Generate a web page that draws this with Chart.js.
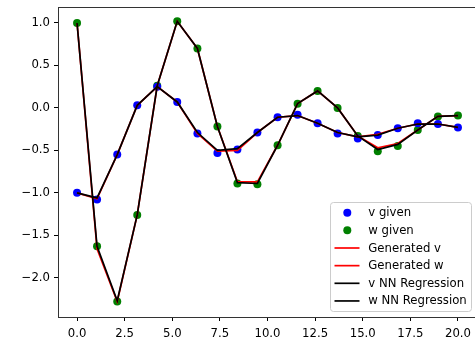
<!DOCTYPE html>
<html>
<head>
<meta charset="utf-8">
<script src="https://cdn.jsdelivr.net/npm/chart.js@4.4.1/dist/chart.umd.min.js"></script>
<style>
body { margin: 0; background: #fff; overflow: hidden; }
#wrap { width: 481px; height: 341px; }
</style>
</head>
<body>
<div id="wrap"><canvas id="chart" width="481" height="341"></canvas></div>
<script>
var xs = [0, 1.05, 2.11, 3.16, 4.21, 5.26, 6.32, 7.37, 8.42, 9.47, 10.53, 11.58, 12.63, 13.68, 14.74, 15.79, 16.84, 17.89, 18.95, 20];
var vGiven = [-1.00, -1.08, -0.55, 0.03, 0.25, 0.07, -0.30, -0.53, -0.49, -0.29, -0.11, -0.08, -0.18, -0.30, -0.36, -0.32, -0.24, -0.18, -0.19, -0.23];
var wGiven = [1.00, -1.63, -2.28, -1.26, 0.26, 1.02, 0.70, -0.22, -0.89, -0.90, -0.44, 0.05, 0.20, 0.00, -0.33, -0.51, -0.45, -0.26, -0.10, -0.09];
var vGenerated = [-1.00, -1.07, -0.55, 0.03, 0.25, 0.07, -0.30, -0.51, -0.50, -0.29, -0.11, -0.09, -0.18, -0.29, -0.34, -0.31, -0.24, -0.19, -0.19, -0.23];
var wGenerated = [1.00, -1.66, -2.28, -1.26, 0.26, 1.02, 0.70, -0.22, -0.87, -0.87, -0.44, 0.05, 0.20, 0.00, -0.33, -0.47, -0.42, -0.26, -0.10, -0.09];
var vNN = [-1.00, -1.06, -0.55, 0.03, 0.25, 0.07, -0.29, -0.50, -0.48, -0.29, -0.11, -0.09, -0.18, -0.29, -0.34, -0.32, -0.24, -0.19, -0.19, -0.23];
var wNN = [1.00, -1.63, -2.27, -1.26, 0.26, 1.02, 0.70, -0.22, -0.88, -0.89, -0.44, 0.05, 0.20, 0.00, -0.33, -0.49, -0.43, -0.26, -0.10, -0.09];
var xTicks = [0, 2.5, 5, 7.5, 10, 12.5, 15, 17.5, 20];
var yTicks = [-2.0, -1.5, -1.0, -0.5, 0.0, 0.5, 1.0];
var labels = ['v given', 'w given', 'Generated v', 'Generated w', 'v NN Regression', 'w NN Regression'];

var FONT = '"DejaVu Sans", sans-serif';

function pts(ys) {
    return ys.map(function (y, i) { return {x: xs[i], y: y}; });
}

function fmt(v) {
    var s = Math.abs(v).toFixed(1);
    return v < 0 ? '\u2212' + s : s;
}

function dotSet(label, ys, color) {
    return {label: label, data: pts(ys), showLine: false, pointRadius: 4, pointHoverRadius: 4,
        pointBackgroundColor: color, pointBorderColor: color, pointBorderWidth: 0, order: 3};
}

function lineSet(label, ys, color, order) {
    return {label: label, data: pts(ys), showLine: true, pointRadius: 0, borderColor: color,
        borderWidth: 1.7, backgroundColor: color, order: order};
}

// no extra room for edge tick labels, the plot box is fixed
function noPad(s) {
    s.paddingTop = 0;
    s.paddingBottom = 0;
    s.paddingLeft = 0;
    s.paddingRight = 0;
}

var framePlugin = {
    id: 'frame',
    afterDatasetsDraw: function (chart) {
        var a = chart.chartArea, ctx = chart.ctx;
        ctx.save();
        ctx.strokeStyle = '#333';
        ctx.lineWidth = 1;
        ctx.strokeRect(Math.round(a.left) + 0.5, Math.round(a.top) + 0.5, Math.round(a.right - a.left), Math.round(a.bottom - a.top));
        ctx.restore();
    }
};

var legendPlugin = {
    id: 'boxLegend',
    afterDraw: function (chart) {
        var ctx = chart.ctx;
        var ds = chart.data.datasets;
        ctx.save();
        ctx.beginPath();
        ctx.roundRect(330.5, 202.5, 141, 109, 3);
        ctx.fillStyle = 'rgba(255,255,255,0.8)';
        ctx.fill();
        ctx.strokeStyle = '#cccccc';
        ctx.lineWidth = 1;
        ctx.stroke();
        ctx.font = '11.7px ' + FONT;
        ctx.textBaseline = 'middle';
        for (var i = 0; i < ds.length; i++) {
            var y = 212.7 + i * 17.65;
            if (ds[i].showLine) {
                ctx.strokeStyle = ds[i].borderColor;
                ctx.lineWidth = 1.7;
                ctx.beginPath();
                ctx.moveTo(334.5, y);
                ctx.lineTo(359.5, y);
                ctx.stroke();
            } else {
                ctx.fillStyle = ds[i].pointBackgroundColor;
                ctx.beginPath();
                ctx.arc(347.3, y, 4, 0, Math.PI * 2);
                ctx.fill();
            }
            ctx.fillStyle = '#000';
            ctx.fillText(ds[i].label, 368.3, y + 0.5);
        }
        ctx.restore();
    }
};

var ctx = document.getElementById('chart').getContext('2d');
var myChart = new Chart(ctx, {
    type: 'scatter',
    data: {
        datasets: [
            dotSet(labels[0], vGiven, '#0000ff'),
            dotSet(labels[1], wGiven, '#008000'),
            lineSet(labels[2], vGenerated, '#ff0000', 2),
            lineSet(labels[3], wGenerated, '#ff0000', 2),
            lineSet(labels[4], vNN, '#000000', 1),
            lineSet(labels[5], wNN, '#000000', 1)
        ]
    },
    options: {
        responsive: false,
        animation: false,
        devicePixelRatio: 1,
        layout: {padding: {left: 0, top: 7, right: 0, bottom: 0}},
        plugins: {legend: {display: false}, tooltip: {enabled: false}},
        scales: {
            x: {
                type: 'linear', min: -1, max: 21,
                afterBuildTicks: function (s) { s.ticks = xTicks.map(function (v) { return {value: v}; }); },
                afterFit: function (s) { s.height = 24; noPad(s); },
                grid: {drawOnChartArea: false, drawTicks: true, tickLength: 4, color: '#000', tickWidth: 1},
                border: {display: false},
                ticks: {padding: 6, color: '#000', maxRotation: 0, autoSkip: false,
                    font: {family: FONT, size: 11.7}, callback: function (v) { return fmt(v); }}
            },
            y: {
                type: 'linear', min: -2.462, max: 1.188,
                afterBuildTicks: function (s) { s.ticks = yTicks.map(function (v) { return {value: v}; }); },
                afterFit: function (s) { s.width = 58; noPad(s); },
                grid: {drawOnChartArea: false, drawTicks: true, tickLength: 4, color: '#000', tickWidth: 1},
                border: {display: false},
                ticks: {padding: 4, color: '#000', autoSkip: false,
                    font: {family: FONT, size: 11.7}, callback: function (v) { return fmt(v); }}
            }
        }
    },
    plugins: [framePlugin, legendPlugin]
});
</script>
</body>
</html>
